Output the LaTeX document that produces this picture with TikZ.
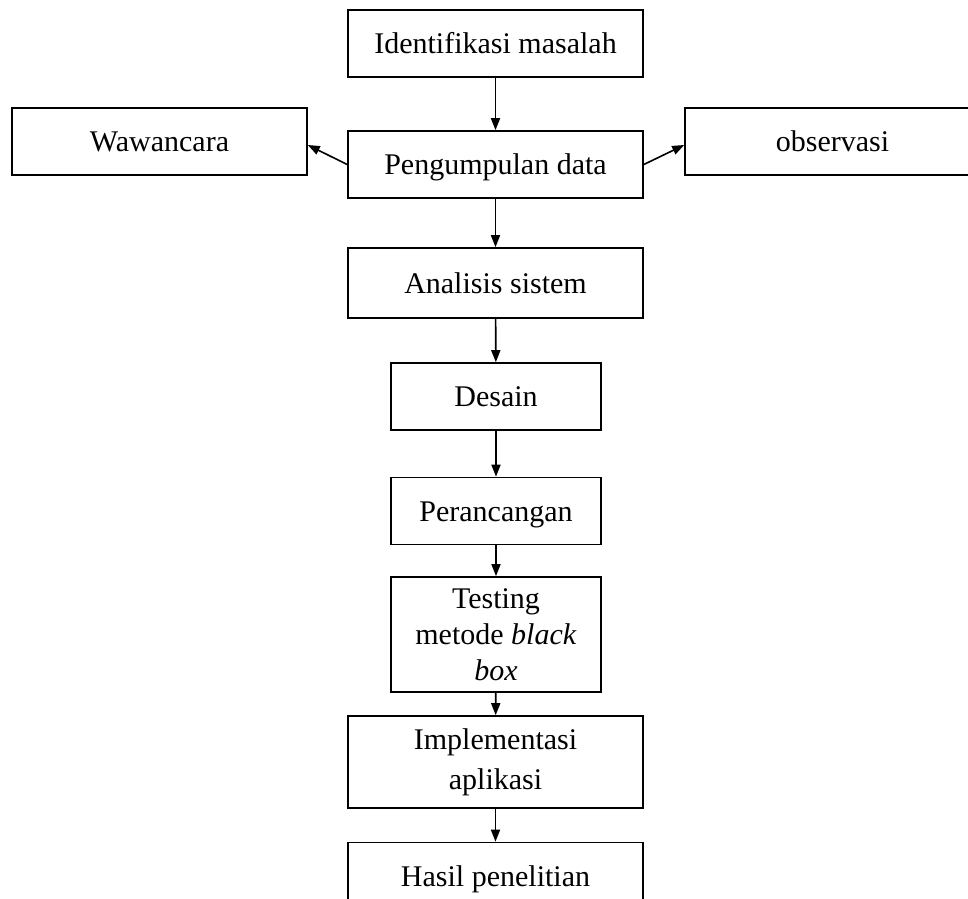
\documentclass[tikz,border=0pt]{standalone}
\usepackage{fontspec}
\setmainfont{Liberation Serif}
\usetikzlibrary{arrows.meta}

\tikzset{
  procbox/.style={draw, line width=1.6pt, minimum width=295pt, minimum height=67pt,
    inner sep=0pt, font=\fontsize{30}{36}\selectfont},
  onebox/.style={procbox, text height=20pt, text depth=0pt},
  narrowbox/.style={procbox, minimum width=210pt},
  flow/.style={-{Triangle[length=12pt,width=9pt]}, line width=1.6pt},
}

\begin{document}
\begin{tikzpicture}[x=1pt,y=-1pt]
  \useasboundingbox (0,0) rectangle (968,898);
  \clip (0,0) rectangle (968,898);
  % main column
  \node[onebox] (ident) at (495.5,43.5) {Identifikasi masalah};
  \node[onebox] (kumpul) at (495.5,164.5) {Pengumpulan data};
  \node[onebox, minimum height=70pt] (analisis) at (495.5,283) {Analisis sistem};
  \node[onebox, narrowbox] (desain) at (496,396.5) {Desain};
  \node[onebox, narrowbox] (rancang) at (496,511) {Perancangan};
  \node[narrowbox, minimum height=115pt, align=center] (testing) at (496,634.5)
    {Testing\\metode \textit{black}\\\textit{box}};
  \node[procbox, minimum height=92pt, align=center,
    font=\fontsize{30}{40}\selectfont] (implement) at (495.5,762)
    {Implementasi\\aplikasi};
  \node[onebox] (hasil) at (495.5,876) {Hasil penelitian};
  % data sources
  \node[onebox] (wawancara) at (159.5,141.5) {Wawancara};
  \node[onebox] (observasi) at (832.5,141.5) {observasi};

  \draw[flow] (ident) -- (kumpul);
  \draw[flow] (kumpul) -- (analisis);
  \draw[flow] (analisis) -- (desain);
  \draw[flow] (desain) -- (rancang);
  \draw[flow] (rancang) -- (testing);
  \draw[flow] (testing) -- (implement);
  \draw[flow] (implement) -- (hasil);
  \draw[flow] (kumpul.west) -- (wawancara.east |- 0,145);
  \draw[flow] (kumpul.east) -- (observasi.west |- 0,145);
\end{tikzpicture}
\end{document}
